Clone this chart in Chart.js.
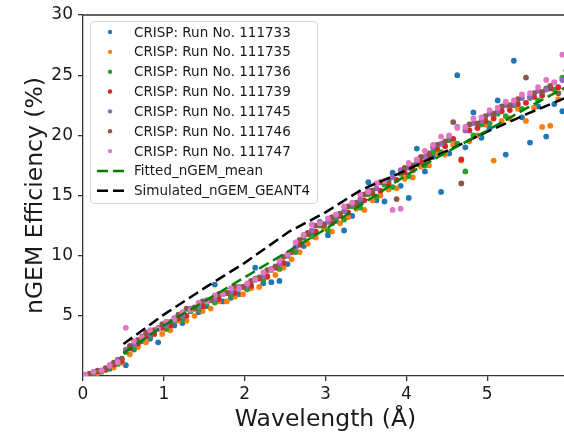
<!DOCTYPE html>
<html>
<head>
<meta charset="utf-8">
<script src="https://cdn.jsdelivr.net/npm/chart.js@4.4.1/dist/chart.umd.min.js"></script>
<style>
  html, body { margin: 0; padding: 0; background: #fff; overflow: hidden; }
  #wrap { width: 564px; height: 440px; overflow: hidden; }
  canvas { display: block; }
</style>
</head>
<body>
<div id="wrap"><canvas id="chart" width="572" height="440"></canvas></div>
<script>
// wavelength bins (Å) - two interleaved binnings
const wavelengthsA = [0.03,0.13,0.23,0.33,0.43,0.53,0.63,0.73,0.83,0.93,
  1.03,1.13,1.23,1.33,1.43,1.53,1.63,1.73,1.83,1.93,
  2.03,2.13,2.23,2.33,2.43,2.53,2.63,2.73,2.83,2.93,
  3.03,3.13,3.23,3.33,3.43,3.53,3.63,3.73,3.83,3.93,
  4.03,4.13,4.23,4.33,4.43,4.53,4.63,4.73,4.83,4.93,
  5.03,5.13,5.23,5.33,5.43,5.53,5.63,5.73,5.83,5.93];
const wavelengthsB = [0.08,0.18,0.28,0.38,0.48,0.58,0.68,0.78,0.88,0.98,
  1.08,1.18,1.28,1.38,1.48,1.58,1.68,1.78,1.88,1.98,
  2.08,2.18,2.28,2.38,2.48,2.58,2.68,2.78,2.88,2.98,
  3.08,3.18,3.28,3.38,3.48,3.58,3.68,3.78,3.88,3.98,
  4.08,4.18,4.28,4.38,4.48,4.58,4.68,4.78,4.88,4.98,
  5.08,5.18,5.28,5.38,5.48,5.58,5.68,5.78,5.88,5.98];

// efficiency (%) per run
const run111733 = [0.02,0.15,0.45,0.6,1.1,0.9,2.2,2.9,3.1,2.8,
  4.5,4.2,4.4,5.4,5.3,5.8,7.6,6.2,6.5,6.8,
  7.6,9.0,7.7,7.8,7.9,9.3,10.7,10.8,11.9,12.8,
  11.7,12.9,12.1,13.3,14.4,16.1,14.6,14.5,16.9,15.8,
  14.8,18.9,17.0,18.2,15.3,18.5,25.0,19.0,21.9,19.8,
  20.6,22.9,18.4,26.2,21.5,19.4,22.4,19.9,22.6,22.0];
const run111735 = [0.1,0.25,0.5,0.7,1.1,1.8,2.4,2.8,3.5,3.5,
  3.8,4.6,4.6,5.0,5.4,5.6,6.2,6.2,6.6,6.8,
  7.3,7.4,8.2,8.4,9.0,9.7,10.3,11.0,11.5,12.3,
  12.0,12.7,13.2,13.9,13.8,14.6,15.0,15.5,15.6,16.4,
  16.5,17.4,17.5,18.5,18.4,19.2,17.9,19.5,20.0,20.9,
  17.9,21.2,21.4,22.2,21.2,22.3,20.7,20.8,23.0,23.7];
const run111736 = [0.05,0.25,0.35,0.75,1.0,2.0,2.3,3.1,3.3,3.9,
  3.9,4.6,4.7,5.4,5.5,6.1,6.1,6.8,6.7,7.3,
  7.2,8.0,8.0,8.8,8.9,10.0,10.3,11.5,11.6,12.5,
  12.1,13.2,13.0,14.1,14.0,15.1,14.9,15.9,15.7,16.8,
  16.6,17.6,17.5,18.6,18.6,19.6,19.3,17.0,20.0,20.9,
  21.0,21.8,21.6,22.5,22.2,23.1,22.9,23.9,23.8,24.8];
const run111739 = [0.15,0.4,0.55,0.95,1.25,2.3,2.7,3.3,3.5,4.0,
  4.2,4.8,5.0,5.6,5.8,6.3,6.4,6.9,6.9,7.4,
  7.5,8.1,8.3,9.0,9.4,10.3,10.9,11.8,12.0,12.6,
  12.7,13.3,13.6,14.3,14.6,15.2,15.4,16.0,16.3,16.9,
  17.1,17.8,18.1,18.9,19.1,19.7,18.0,20.4,20.6,21.2,
  21.4,22.0,22.1,22.6,22.7,23.2,23.3,23.9,24.0,24.6];
const run111745 = [0.12,0.35,0.45,0.9,1.35,2.2,2.6,3.3,3.5,4.0,
  4.2,4.8,5.0,5.6,5.8,6.3,6.4,6.9,7.0,7.4,
  7.5,8.1,8.3,8.9,9.3,10.1,10.7,11.7,12.1,12.7,
  12.8,13.4,13.7,14.3,14.7,15.4,15.6,16.2,16.5,17.1,
  17.3,17.9,18.2,19.0,19.3,19.9,20.7,20.4,21.0,21.2,
  21.8,22.0,22.5,22.6,23.1,23.2,23.7,23.8,24.4,24.6];
const run111746 = [0.2,0.45,0.65,1.1,1.45,2.5,3.0,3.6,3.8,4.3,
  4.5,5.1,5.6,5.7,6.2,6.3,6.8,6.9,7.4,7.4,
  7.9,8.2,8.8,9.1,9.9,10.3,11.3,11.9,12.5,12.5,
  13.2,13.5,14.1,14.4,15.1,15.4,16.1,16.2,14.7,17.3,
  17.5,18.2,18.5,19.2,19.5,21.1,16.0,20.9,21.0,21.6,
  21.8,22.4,22.5,23.0,24.8,23.5,23.6,24.1,23.5,25.4];
const run111747 = [0.1,0.35,0.45,0.85,1.15,4.0,2.9,3.2,3.8,3.9,
  4.5,4.7,5.3,5.5,6.1,6.2,6.7,6.8,7.3,7.3,
  7.7,8.0,8.6,8.8,9.6,10.1,11.1,11.7,12.6,12.7,
  13.1,13.4,14.1,14.4,15.1,15.3,16.0,16.2,13.8,13.9,
  17.7,18.0,18.7,19.2,19.9,20.0,20.6,20.7,21.4,21.5,
  22.1,22.3,22.8,22.9,23.4,23.5,24.0,24.6,24.4,26.7];

const fitWavelengths = [0.5,1.0,1.5,2.0,2.5,3.0,3.5,4.0,4.5,5.0,5.5,6.0];
const fitEfficiency = [1.9,4.2,6.2,8.2,10.2,12.2,14.5,16.7,18.6,20.4,22.3,24.1];
const simWavelengths = [0.5,1.0,1.5,2.0,2.55,3.0,3.45,3.9,4.5,5.0,5.5,6.0];
const simEfficiency = [2.65,5.1,7.3,9.4,12.0,13.6,15.5,16.8,18.7,20.3,21.8,23.2];

const runLabels = ['CRISP: Run No. 111733','CRISP: Run No. 111735','CRISP: Run No. 111736',
  'CRISP: Run No. 111739','CRISP: Run No. 111745','CRISP: Run No. 111746','CRISP: Run No. 111747'];
const runValues = [run111733, run111735, run111736, run111739, run111745, run111746, run111747];
const runColors = ['#1f77b4','#ff7f0e','#2ca02c','#d62728','#9467bd','#8c564b','#e377c2'];
const xTicks = [0,1,2,3,4,5];
const yTicks = [5,10,15,20,25,30];

const FONT = "'DejaVu Sans', sans-serif";
const AXIS = '#333';
const TEXT = '#1a1a1a';
const DASH = [11, 5];

const toPoints = (xs, ys) => xs.map((x, i) => ({ x, y: ys[i] }));

const datasets = runLabels.map((label, i) => ({
  label,
  data: toPoints(i % 2 === 0 ? wavelengthsA : wavelengthsB, runValues[i]),
  backgroundColor: runColors[i],
  borderWidth: 0,
  pointRadius: 2.9,
  order: 1 + (runLabels.length - 1 - i)
}));

datasets.push({
  label: 'Fitted_nGEM_mean',
  data: toPoints(fitWavelengths, fitEfficiency),
  showLine: true, borderColor: '#008000', borderWidth: 2.5, borderDash: DASH,
  pointRadius: 0, fill: false, order: 0
});
datasets.push({
  label: 'Simulated_nGEM_GEANT4',
  data: toPoints(simWavelengths, simEfficiency),
  showLine: true, borderColor: '#000', borderWidth: 2.5, borderDash: DASH,
  pointRadius: 0, fill: false, order: 0
});

const legendItems = runLabels.map((t, i) => ({ text: t, color: runColors[i], dot: true }))
  .concat([{ text: 'Fitted_nGEM_mean', color: '#008000' }, { text: 'Simulated_nGEM_GEANT4', color: '#000' }]);

const framePlugin = {
  id: 'frame',
  afterDraw(chart) {
    const { ctx, chartArea } = chart;
    ctx.save();
    // top spine
    ctx.strokeStyle = AXIS;
    ctx.lineWidth = 1.3;
    ctx.beginPath();
    ctx.moveTo(chartArea.left - 0.6, chartArea.top);
    ctx.lineTo(chartArea.right, chartArea.top);
    ctx.stroke();

    // legend box
    const bx = 90.5, by = 21.5, bw = 227, bh = 182;
    ctx.beginPath();
    ctx.roundRect(bx, by, bw, bh, 4);
    ctx.fillStyle = 'rgba(255,255,255,0.8)';
    ctx.fill();
    ctx.strokeStyle = '#d5d5d5';
    ctx.lineWidth = 1;
    ctx.stroke();

    ctx.font = '13.5px ' + FONT;
    ctx.textBaseline = 'middle';
    legendItems.forEach((item, i) => {
      const y = 32 + i * 19.85;
      if (item.dot) {
        ctx.fillStyle = item.color;
        ctx.beginPath();
        ctx.arc(110, y, 2.2, 0, Math.PI * 2);
        ctx.fill();
      } else {
        ctx.strokeStyle = item.color;
        ctx.lineWidth = 2.5;
        ctx.setLineDash(DASH);
        ctx.beginPath();
        ctx.moveTo(97, y);
        ctx.lineTo(124, y);
        ctx.stroke();
        ctx.setLineDash([]);
      }
      ctx.fillStyle = TEXT;
      ctx.fillText(item.text, 134, y + 1);
    });
    ctx.restore();
  }
};

new Chart(document.getElementById('chart'), {
  type: 'scatter',
  data: { datasets },
  options: {
    responsive: false,
    animation: false,
    events: [],
    layout: { padding: { top: 15, right: 2, left: 0, bottom: 0 } },
    plugins: { legend: { display: false }, tooltip: { enabled: false } },
    scales: {
      x: {
        type: 'linear', min: 0, max: 6,
        border: { display: true, color: AXIS, width: 1.3 },
        grid: { drawOnChartArea: false, drawTicks: true, tickLength: 5, color: AXIS, lineWidth: 1.3 },
        afterBuildTicks: s => { s.ticks = xTicks.map(v => ({ value: v })); },
        ticks: { padding: 3, color: TEXT, maxRotation: 0, font: { family: FONT, size: 17 } },
        title: { display: true, text: 'Wavelength (Å)', color: TEXT,
          font: { family: FONT, size: 23.5 }, padding: { top: 0, bottom: 6 } },
        afterFit: s => { s.height = 64; s.paddingLeft = 0; s.paddingRight = 0; }
      },
      y: {
        type: 'linear', min: 0, max: 30,
        border: { display: true, color: AXIS, width: 1.3 },
        grid: { drawOnChartArea: false, drawTicks: true, tickLength: 5, color: AXIS, lineWidth: 1.3 },
        afterBuildTicks: s => { s.ticks = yTicks.map(v => ({ value: v })); },
        ticks: { padding: 5, color: TEXT, font: { family: FONT, size: 17 } },
        title: { display: true, text: 'nGEM Efficiency (%)', color: TEXT,
          font: { family: FONT, size: 23.5 }, padding: { top: 22, bottom: 0 } },
        afterFit: s => { s.width = 83; s.paddingTop = 0; s.paddingBottom = 0; }
      }
    }
  },
  plugins: [framePlugin]
});
</script>
</body>
</html>
